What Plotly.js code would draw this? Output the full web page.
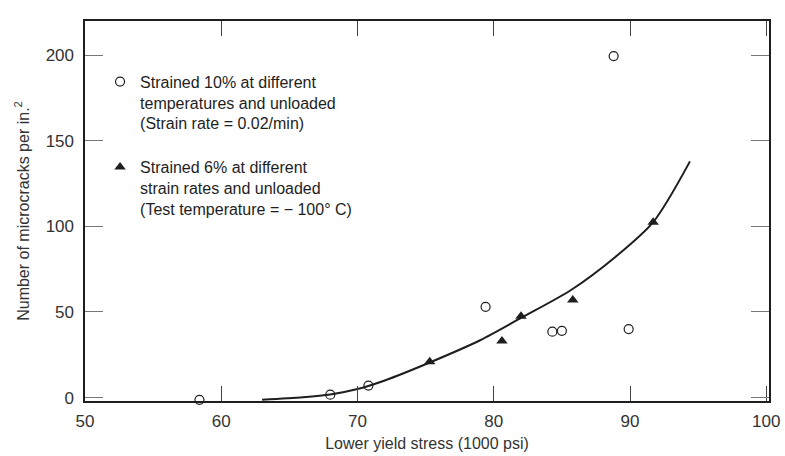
<!DOCTYPE html>
<html>
<head>
<meta charset="utf-8">
<script src="https://cdn.plot.ly/plotly-3.0.1.min.js"></script>
<style>html,body{margin:0;padding:0;background:#fff;}#chart{width:785px;height:456px;}</style>
</head>
<body>
<div id="chart"></div>
<script>
// Open circles: strained 10% at different temperatures
const circleStress = [58.4, 68.0, 70.8, 79.4, 84.3, 85.0, 89.9, 88.8];
const circleCracks = [-1.3, 1.7, 7.0, 53, 38.5, 39, 40, 199.5];
// Filled triangles: strained 6% at different strain rates
const triStress = [75.3, 80.6, 82.0, 85.8, 91.7];
const triCracks = [21, 33, 47.5, 57, 102.5];
// Fitted curve
const curveStress = [63, 66, 68, 70, 72, 75.3, 79, 82, 85.7, 88.9, 91.7, 94.4];
const curveCracks = [-1.2, 0.2, 1.8, 5, 10, 20.5, 33.5, 46.5, 63, 82, 102.5, 138];
const xTicks = [50, 60, 70, 80, 90, 100];
const yTicks = [0, 50, 100, 150, 200];
const legendCircle = "Strained 10% at different<br>temperatures and unloaded<br>(Strain rate = 0.02/min)";
const legendTri = "Strained 6% at different<br>strain rates and unloaded<br>(Test temperature = − 100° C)";
const xTitle = "Lower yield stress (1000 psi)";
const yTitle = "Number of microcracks per in.<sup>2</sup>";

const ink = "#1e1e1e";
const traces = [
  {x: curveStress, y: curveCracks, mode: "lines", line: {color: ink, width: 2, shape: "spline", smoothing: 0.8},
   showlegend: false, hoverinfo: "skip", cliponaxis: false},
  {x: circleStress, y: circleCracks, mode: "markers", name: legendCircle, legendgroup: "a",
   marker: {symbol: "circle-open", size: 9, color: ink, line: {width: 1.2, color: ink}}, cliponaxis: false},
  {x: triStress, y: triCracks, mode: "markers", name: legendTri, legendgroup: "b",
   marker: {symbol: "triangle-up", size: 10, color: ink}, cliponaxis: false}
];
const layout = {
  width: 785, height: 456,
  margin: {l: 85, r: 16, t: 21, b: 55},
  paper_bgcolor: "#fff", plot_bgcolor: "#fff",
  font: {family: "Liberation Sans, Arial, sans-serif", color: ink},
  showlegend: true,
  legend: {x: 0.022, y: 0.885, xanchor: "left", yanchor: "top", bgcolor: "rgba(0,0,0,0)",
           font: {size: 16, color: ink}, valign: "top", tracegroupgap: 20, itemwidth: 30},
  xaxis: {range: [50, 100.2], tickvals: xTicks, ticks: "inside", ticklen: 15, tickwidth: 1, tickcolor: "#444",
          showline: true, linecolor: ink, linewidth: 1.6, mirror: "ticks", showgrid: false, zeroline: false,
          tickfont: {size: 17, color: "#333"}, ticklabelstandoff: 4, ticklabeloverflow: "allow",
          title: {text: xTitle, font: {size: 16, color: "#333"}, standoff: 8}, automargin: false},
  yaxis: {range: [-2, 220], tickvals: yTicks, ticks: "inside", ticklen: 18, tickwidth: 1, tickcolor: "#777",
          showline: true, linecolor: ink, linewidth: 1.6, mirror: "ticks", showgrid: false, zeroline: false,
          tickfont: {size: 17, color: "#333"}, ticklabelstandoff: 6,
          title: {text: yTitle, font: {size: 16, color: "#333"}, standoff: 12}, automargin: false}
};
Plotly.newPlot("chart", traces, layout, {displayModeBar: false, staticPlot: true});
</script>
</body>
</html>
